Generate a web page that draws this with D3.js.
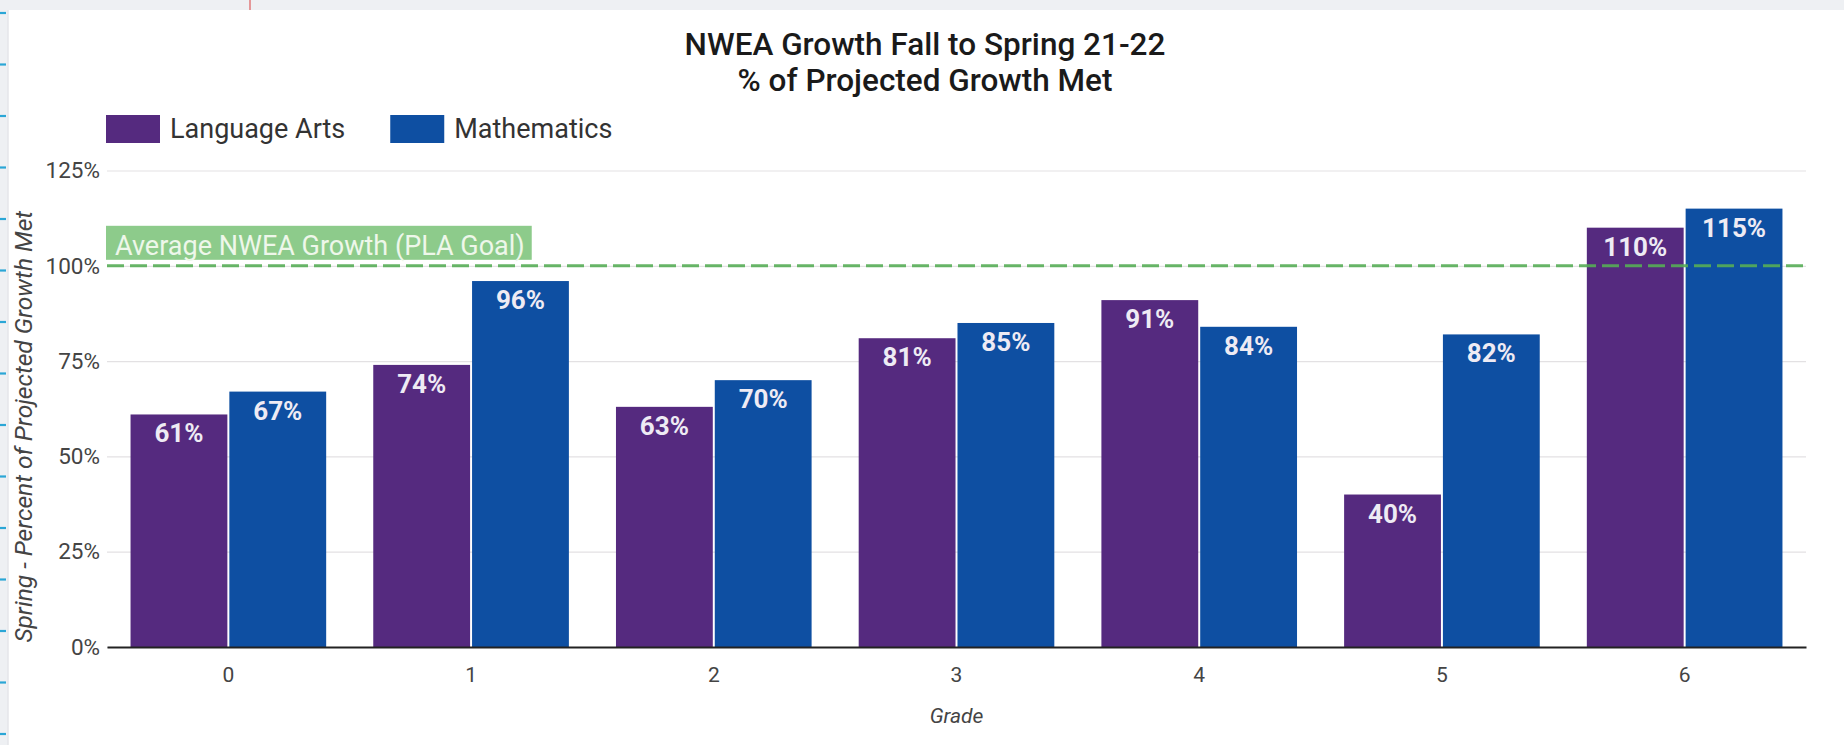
<!DOCTYPE html>
<html>
<head>
<meta charset="utf-8">
<script src="https://cdn.jsdelivr.net/npm/d3@7"></script>
<style>
  html, body { margin: 0; padding: 0; background: #ffffff; }
  svg { display: block; }
  text { font-family: Roboto, "Noto Sans", sans-serif; }
</style>
</head>
<body>
<svg id="chart" width="1844" height="745"></svg>
<script>
// ---- data ----
const grades = ["0", "1", "2", "3", "4", "5", "6"];
const seriesNames = ["Language Arts", "Mathematics"];
const languageArts = [61, 74, 63, 81, 91, 40, 110];
const mathematics = [67, 96, 70, 85, 84, 82, 115];
const yTickValues = [0, 25, 50, 75, 100, 125];
const goalValue = 100;
const goalLabel = "Average NWEA Growth (PLA Goal)";
const titleLines = ["NWEA Growth Fall to Spring 21-22", "% of Projected Growth Met"];
const yAxisTitle = "Spring - Percent of Projected Growth Met";
const xAxisTitle = "Grade";

const colors = { "Language Arts": "#552a7f", "Mathematics": "#0e4fa2" };

const W = 1844, H = 745;
const plot = { left: 107, right: 1806, top: 170.5, bottom: 647 };

const svg = d3.select("#chart");

// page frame (screenshot surroundings)
svg.append("rect").attr("x", 0).attr("y", 0).attr("width", W).attr("height", H).attr("fill", "#eef0f3");
svg.append("rect").attr("x", 8).attr("y", 10).attr("width", W - 8).attr("height", H - 10).attr("fill", "#ffffff");
svg.append("line").attr("x1", 8).attr("x2", 8).attr("y1", 10).attr("y2", H)
   .attr("stroke", "#e4e6ea").attr("stroke-width", 1.5);
svg.append("line").attr("x1", 250).attr("x2", 250).attr("y1", 0).attr("y2", 10)
   .attr("stroke", "#e07a7a").attr("stroke-width", 1.5);
svg.append("g").selectAll("line").data(d3.range(13, H, 51.5)).join("line")
   .attr("x1", 0).attr("x2", 6).attr("y1", d => d).attr("y2", d => d)
   .attr("stroke", "#2aa6d6").attr("stroke-width", 2.2);

// scales
const x0 = d3.scaleBand().domain(grades).range([plot.left, plot.right])
  .paddingInner(0.194).paddingOuter(0.097);
const x1 = d3.scaleBand().domain(seriesNames).range([0, x0.bandwidth()]).paddingInner(0.02);
const y = d3.scaleLinear().domain([0, 125]).range([plot.bottom, plot.top]);

// gridlines + y axis labels
const yAxis = d3.axisLeft(y).tickValues(yTickValues).tickFormat(d => d + "%")
  .tickSize(-(plot.right - plot.left)).tickPadding(7);
const gy = svg.append("g").attr("transform", `translate(${plot.left},0)`).call(yAxis);
gy.select(".domain").remove();
gy.selectAll(".tick line").attr("stroke", "#e3e1e3").attr("stroke-width", 1.2);
gy.selectAll(".tick text").attr("fill", "#444").style("font-size", "22.5px")
  .style("font-family", "Roboto, sans-serif");

// bars
const rows = grades.map((g, i) => ({ grade: g, values: [
  { series: seriesNames[0], value: languageArts[i] },
  { series: seriesNames[1], value: mathematics[i] } ] }));

const groups = svg.append("g").selectAll("g").data(rows).join("g")
  .attr("transform", d => `translate(${x0(d.grade)},0)`);
groups.selectAll("rect").data(d => d.values).join("rect")
  .attr("x", d => x1(d.series))
  .attr("y", d => y(d.value))
  .attr("width", x1.bandwidth())
  .attr("height", d => y(0) - y(d.value))
  .attr("fill", d => colors[d.series]);

// data labels
groups.selectAll("text.lbl").data(d => d.values).join("text")
  .attr("class", "lbl")
  .attr("x", d => x1(d.series) + x1.bandwidth() / 2)
  .attr("y", d => y(d.value) + 28)
  .attr("text-anchor", "middle")
  .attr("fill", "#eeebf4")
  .style("font-size", "26px").style("font-weight", "700")
  .text(d => d.value + "%");

// goal line
svg.append("line")
  .attr("x1", plot.left).attr("x2", plot.right + 2)
  .attr("y1", y(goalValue)).attr("y2", y(goalValue))
  .attr("stroke", "#57ad57").attr("stroke-width", 3).attr("stroke-opacity", 0.9)
  .attr("stroke-dasharray", "17,6");
const goalG = svg.append("g");
const goalText = goalG.append("text")
  .attr("x", plot.left + 8).attr("y", y(goalValue) - 11)
  .attr("fill", "#eef7ea").style("font-size", "27px")
  .text(goalLabel);
const bb = goalText.node().getBBox();
goalG.insert("rect", "text")
  .attr("x", plot.left - 1).attr("y", y(goalValue) - 40)
  .attr("width", bb.width + 16).attr("height", 34)
  .attr("fill", "#8dcb8b");

// x axis
const xAxis = d3.axisBottom(x0).tickSize(0).tickPadding(20);
const gx = svg.append("g").attr("transform", `translate(0,${plot.bottom})`).call(xAxis);
gx.select(".domain").attr("stroke", "#222").attr("stroke-width", 2);
gx.selectAll(".tick text").attr("fill", "#444").style("font-size", "21px")
  .style("font-family", "Roboto, sans-serif");

// axis titles
svg.append("text")
  .attr("x", (plot.left + plot.right) / 2).attr("y", 723)
  .attr("text-anchor", "middle").attr("fill", "#444")
  .style("font-size", "21px").style("font-style", "italic")
  .text(xAxisTitle);
svg.append("text")
  .attr("transform", `translate(32,${(plot.top + plot.bottom) / 2 + 18}) rotate(-90)`)
  .attr("text-anchor", "middle").attr("fill", "#444")
  .style("font-size", "24.5px").style("font-style", "italic")
  .text(yAxisTitle);

// title
svg.append("g").selectAll("text").data(titleLines).join("text")
  .attr("x", 925).attr("y", (d, i) => 55 + i * 36)
  .attr("text-anchor", "middle").attr("fill", "#1a1a1a")
  .style("font-size", "31.5px").style("font-weight", "500")
  .text(d => d);

// legend
const legend = svg.append("g").attr("transform", "translate(106,115)");
let lx = 0;
seriesNames.forEach(name => {
  const g = legend.append("g").attr("transform", `translate(${lx},0)`);
  g.append("rect").attr("width", 54).attr("height", 28).attr("fill", colors[name]);
  const t = g.append("text").attr("x", 64).attr("y", 23).attr("fill", "#333")
    .style("font-size", "27px").text(name);
  lx += 64 + t.node().getComputedTextLength() + 45;
});
</script>
</body>
</html>
